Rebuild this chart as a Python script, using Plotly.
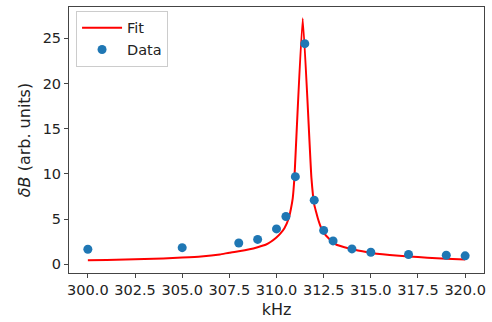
import plotly.graph_objects as go

# Measured data points
data_khz = [300.0, 305.0, 308.0, 309.0, 310.0, 310.5, 311.0, 311.5, 312.0, 312.5, 313.0, 314.0, 315.0, 317.0, 319.0, 320.0]
data_db = [1.67, 1.85, 2.36, 2.76, 3.92, 5.3, 9.7, 24.4, 7.1, 3.76, 2.6, 1.71, 1.34, 1.09, 1.01, 0.95]

# Fit curve values
fit_khz = [300, 301, 302, 303, 304, 305, 306, 307, 307.5, 308, 308.57, 309.0, 309.45, 309.7, 309.98,
           310.2, 310.42, 310.65, 310.76, 310.86, 310.95, 311.39, 311.85, 312.0, 312.1, 312.19, 312.3,
           312.45, 312.8, 313.16, 313.6, 314.04, 314.92, 316, 317, 318, 319, 320]
fit_db = [0.45, 0.49, 0.53, 0.59, 0.66, 0.75, 0.87, 1.1, 1.3, 1.45, 1.67, 1.9, 2.2, 2.5, 2.94,
          3.4, 4.0, 5.1, 6.1, 7.3, 9.6, 27.2, 9.6, 6.6, 5.8, 5.1, 4.4,
          3.67, 2.8, 2.2, 1.9, 1.67, 1.3, 1.05, 0.88, 0.74, 0.63, 0.55]

x_ticks = [300.0, 302.5, 305.0, 307.5, 310.0, 312.5, 315.0, 317.5, 320.0]
y_ticks = [0, 5, 10, 15, 20, 25]

FONT = "DejaVu Sans"

fig = go.Figure()
fig.add_trace(go.Scatter(x=fit_khz, y=fit_db, mode="lines", name="Fit",
                         line=dict(color="red", width=2, shape="spline", smoothing=0.4)))
fig.add_trace(go.Scatter(x=data_khz, y=data_db, mode="markers", name="Data",
                         marker=dict(color="#1f77b4", size=9)))

axis_common = dict(showgrid=False, zeroline=False, showline=True, linecolor="#444", linewidth=1,
                   mirror=True, ticks="outside", ticklen=4, tickcolor="#444",
                   tickfont=dict(family=FONT, size=14.5, color="#222"))

fig.update_xaxes(range=[299.0, 321.0], tickvals=x_ticks, ticktext=[f"{v:.1f}" for v in x_ticks],
                 title=dict(text="kHz", font=dict(family=FONT, size=16, color="#222"), standoff=6),
                 **axis_common)
fig.update_yaxes(range=[-0.95, 28.45], tickvals=y_ticks,
                 title=dict(text="<i>δB</i> (arb. units)", font=dict(family=FONT, size=16, color="#222"), standoff=8),
                 **axis_common)

fig.update_layout(
    width=492, height=322,
    margin=dict(l=69, r=7, t=6, b=46),
    paper_bgcolor="white", plot_bgcolor="white",
    showlegend=True,
    legend=dict(x=0.017, y=0.986, xanchor="left", yanchor="top",
                bgcolor="rgba(255,255,255,0.8)", bordercolor="#ccc", borderwidth=1,
                font=dict(family=FONT, size=14.5, color="#222"),
                itemwidth=40, tracegroupgap=0),
)

fig.write_html("out.html")
